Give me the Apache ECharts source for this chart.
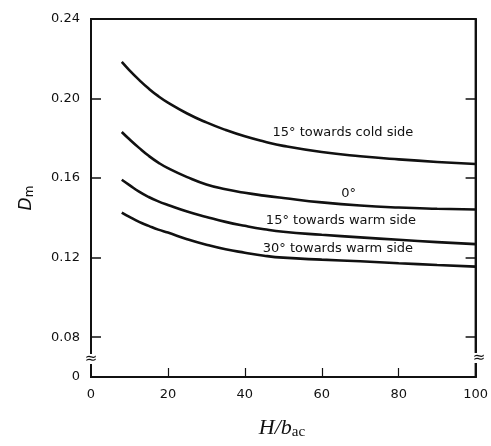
<!DOCTYPE html>
<html>
<head>
<meta charset="utf-8">
<script src="https://cdn.jsdelivr.net/npm/echarts@6/dist/echarts.min.js"></script>
<style>
  html, body { margin: 0; padding: 0; background: #fff; }
  #chart { width: 491px; height: 446px; }
</style>
</head>
<body>
<div id="chart"></div>
<script>
// H/b_ac positions shared by all curves
const hRatio = [8, 10, 12.5, 15, 17.5, 20, 25, 30, 35, 40, 45, 50, 60, 70, 80, 90, 100];

// D_m for each inclination
const coldSide15 = [0.2184, 0.2142, 0.2094, 0.2050, 0.2012, 0.1980, 0.1925, 0.1880, 0.1842, 0.1810, 0.1784, 0.1762, 0.1731, 0.1710, 0.1694, 0.1681, 0.1671];
const zeroDeg    = [0.1832, 0.1795, 0.1752, 0.1712, 0.1678, 0.1650, 0.1605, 0.1568, 0.1544, 0.1526, 0.1512, 0.1500, 0.1478, 0.1462, 0.1452, 0.1446, 0.1442];
const warmSide15 = [0.1592, 0.1565, 0.1532, 0.1505, 0.1483, 0.1465, 0.1432, 0.1405, 0.1380, 0.1360, 0.1343, 0.1330, 0.1315, 0.1302, 0.1290, 0.1278, 0.1268];
const warmSide30 = [0.1427, 0.1405, 0.1380, 0.1360, 0.1341, 0.1326, 0.1293, 0.1265, 0.1242, 0.1225, 0.1210, 0.1200, 0.1190, 0.1182, 0.1172, 0.1163, 0.1155];

const curveNames = ['15° towards cold side', '0°', '15° towards warm side', '30° towards warm side'];
const curveValues = [coldSide15, zeroDeg, warmSide15, warmSide30];
// where each curve's caption sits, in data units
const captionAt = [[65.5, 0.1827], [67, 0.1520], [65, 0.1385], [64.2, 0.1243]];

// axis tick labels
const xTicks = [0, 20, 40, 60, 80, 100];
const yTicks = [0.08, 0.12, 0.16, 0.20, 0.24];
const yBreakValue = 0.06; // axis is broken below 0.08; bottom edge reads as 0

const ink = '#111';
const tickFont = { fontFamily: 'DejaVu Sans', fontSize: 13, color: ink };

const chart = echarts.init(document.getElementById('chart'), null, { renderer: 'canvas' });

const series = curveValues.map((vals, i) => ({
  name: curveNames[i],
  type: 'line',
  smooth: true,
  showSymbol: false,
  silent: true,
  lineStyle: { color: ink, width: 2.6 },
  data: hRatio.map((h, k) => [h, vals[k]]),
  markPoint: {
    symbol: 'rect',
    symbolSize: 0,
    silent: true,
    data: [{
      coord: captionAt[i],
      label: {
        show: true,
        position: 'inside',
        formatter: curveNames[i],
        fontFamily: 'DejaVu Sans',
        fontSize: 13,
        color: ink
      }
    }]
  }
}));

chart.setOption({
  animation: false,
  backgroundColor: '#fff',
  grid: { left: 91, right: 12, top: 19, bottom: 69, show: true, borderColor: ink, borderWidth: 2, backgroundColor: 'transparent' },
  xAxis: {
    type: 'value',
    min: 0, max: 100, interval: 20,
    splitLine: { show: false },
    axisLine: { show: true, lineStyle: { color: ink, width: 2 } },
    axisTick: { show: true, inside: true, length: 9, lineStyle: { color: ink, width: 1.2 },
                customValues: [20, 40, 60, 80] },
    axisLabel: Object.assign({ margin: 11, customValues: xTicks }, tickFont)
  },
  yAxis: [{
    type: 'value',
    min: yBreakValue, max: 0.24, interval: 0.02,
    splitLine: { show: false },
    axisLine: { show: true, lineStyle: { color: ink, width: 2 } },
    axisTick: { show: true, inside: true, length: 10, lineStyle: { color: ink, width: 1.5 },
                customValues: yTicks.slice(0, 4) },
    axisLabel: Object.assign({
      margin: 11,
      customValues: [yBreakValue].concat(yTicks),
      formatter: v => (Math.abs(v - yBreakValue) < 1e-9 ? '0' : v.toFixed(2))
    }, tickFont)
  }, {
    type: 'value',
    position: 'right',
    min: yBreakValue, max: 0.24, interval: 0.02,
    splitLine: { show: false },
    axisLine: { show: true, lineStyle: { color: ink, width: 2 } },
    axisTick: { show: true, inside: true, length: 10, lineStyle: { color: ink, width: 1.5 },
                customValues: yTicks.slice(0, 4) },
    axisLabel: { show: false }
  }],
  series: series
});

// axis titles and the broken-axis marks
const breakMark = (x, y) => ([
  { type: 'rect', shape: { x: x - 5, y: y - 5, width: 10, height: 10 }, style: { fill: '#fff' }, z: 100 },
  { type: 'text', x: x, y: y, z: 101,
    style: { text: '≈', fontFamily: 'DejaVu Sans', fontSize: 15, fill: ink, align: 'center', verticalAlign: 'middle' } }
]);

chart.setOption({
  graphic: [
    ...breakMark(91, 359),
    ...breakMark(479, 358),
    {
      type: 'text', x: 27, y: 198, rotation: Math.PI / 2,
      style: {
        text: '{d|D}{m|m}',
        align: 'center', verticalAlign: 'middle',
        rich: {
          d: { fontFamily: 'DejaVu Sans', fontStyle: 'italic', fontSize: 17, fill: ink },
          m: { fontFamily: 'DejaVu Sans', fontSize: 12, fill: ink, padding: [6, 0, 0, 0] }
        }
      }
    },
    {
      type: 'text', x: 282, y: 428,
      style: {
        text: '{v|H/b}{s|ac}',
        align: 'center', verticalAlign: 'middle',
        rich: {
          v: { fontFamily: 'Liberation Serif', fontStyle: 'italic', fontSize: 22, fill: ink },
          s: { fontFamily: 'Liberation Serif', fontSize: 15, fill: ink, padding: [8, 0, 0, 0] }
        }
      }
    }
  ]
});
</script>
</body>
</html>
